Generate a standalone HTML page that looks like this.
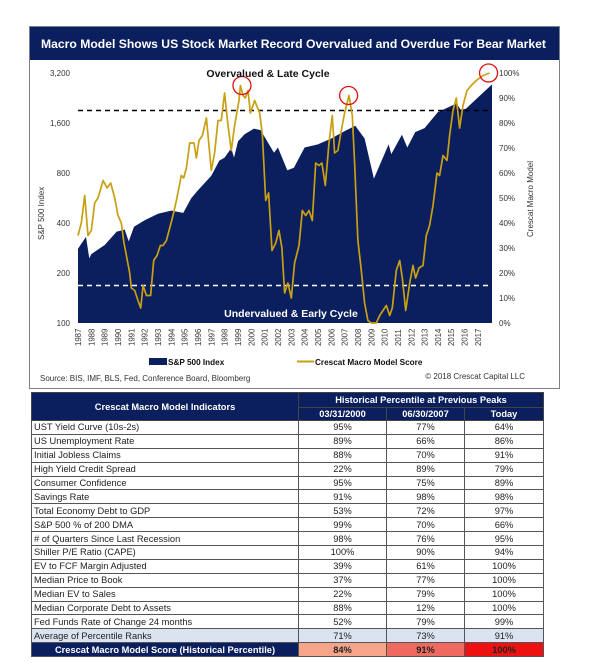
<!DOCTYPE html>
<html><head><meta charset="utf-8"><style>
html,body{margin:0;padding:0;background:#fff;width:606px;height:671px;overflow:hidden}
svg{display:block;font-family:"Liberation Sans",sans-serif}
</style></head><body>
<svg id="chart" width="606" height="671">
<rect x="29.5" y="26.5" width="530" height="362" fill="#fff" stroke="#7a8090"/>
<rect x="30" y="27" width="529" height="33" fill="#0b1f5e"/>
<text x="41" y="48" fill="#fff" font-size="11.6" font-weight="bold" textLength="505" lengthAdjust="spacingAndGlyphs">Macro Model Shows US Stock Market Record Overvalued and Overdue For Bear Market</text>
<g id="plot"></g>
</svg>
<div style="position:absolute;left:31px;top:392px;width:512px">
<table id="tbl" style="border-collapse:collapse;width:512px;font-family:'Liberation Sans',sans-serif;font-size:9.3px;table-layout:fixed">
<colgroup><col style="width:267px"><col style="width:88px"><col style="width:78px"><col style="width:79px"></colgroup>
</table></div>
<script>
const spxYears=[1987.0,1987.6,1987.85,1988,1989,1989.9,1990.5,1990.8,1991.2,1992,1993,1994,1994.9,1995.5,1996,1997,1997.6,1998,1998.5,1998.7,1999,1999.5,2000.2,2000.7,2001,2001.7,2002,2002.7,2003.2,2004,2005,2006,2007,2007.8,2008.5,2009.2,2010.3,2010.5,2011.3,2011.7,2012.3,2013,2014,2015.4,2015.7,2016.1,2017,2018.1];
const spxValues=[280,330,245,260,295,355,365,310,380,415,455,475,460,565,630,770,950,990,1130,990,1240,1370,1480,1450,1320,1060,1140,830,860,1140,1190,1290,1430,1540,1290,740,1190,1040,1360,1140,1410,1490,1860,2100,1920,1950,2280,2750];
const scoreYears=[1987.0,1987.25,1987.5,1987.75,1988,1988.25,1988.5,1988.88,1989.18,1989.45,1989.75,1990,1990.25,1990.45,1990.63,1990.88,1991,1991.25,1991.5,1991.7,1991.88,1992.13,1992.45,1992.68,1992.93,1993.18,1993.38,1993.63,1993.88,1994.13,1994.38,1994.75,1994.93,1995.13,1995.38,1995.7,1995.88,1996.08,1996.33,1996.63,1997,1997.25,1997.5,1997.75,1998,1998.25,1998.5,1998.75,1999.08,1999.18,1999.38,1999.55,1999.75,1999.93,2000.25,2000.63,2000.83,2001.08,2001.3,2001.55,2001.83,2002.08,2002.3,2002.5,2002.75,2003,2003.25,2003.58,2003.83,2004.08,2004.33,2004.58,2004.83,2005.08,2005.3,2005.55,2005.83,2006.08,2006.25,2006.5,2006.75,2007,2007.33,2007.58,2007.75,2008,2008.25,2008.5,2008.75,2009,2009.38,2009.63,2009.88,2010.13,2010.38,2010.58,2010.88,2011.13,2011.33,2011.58,2011.88,2012.13,2012.33,2012.58,2012.88,2013.13,2013.38,2013.63,2013.93,2014.13,2014.38,2014.68,2014.88,2015.13,2015.38,2015.63,2015.88,2016.18,2016.5,2016.88,2017.38,2017.88];
const scoreValues=[35,40,51,35,37,48,50,57,54,56,50,43,40,32,27,20,14,13,9,6,15,11,11,25,27,31,31,33,38,43,49,59,58,62,72,72,66,73,75,82,61,68,81,81,92,79,69,79,89,95,91,90,93,84,89,84,75,49,52,29,32,37,30,12,16,10,24,31,45,43,45,41,64,63,64,55,72,83,68,69,77,84,91,83,64,33,21,8,1,0,0,3,5,7,3,6,21,25,18,5,16,23,18,22,23,35,39,47,60,59,67,65,75,85,90,78,87,93,95,97,99,100];
const leftTicks=[100,200,400,800,1600,3200];
const leftTickLabels=["100","200","400","800","1,600","3,200"];
const rightTicks=[0,10,20,30,40,50,60,70,80,90,100];
const yearLabels=[1987,1988,1989,1990,1991,1992,1993,1994,1995,1996,1997,1998,1999,2000,2001,2002,2003,2004,2005,2006,2007,2008,2009,2010,2011,2012,2013,2014,2015,2016,2017];
const peakYears=[1999.3,2007.3,2017.8];
const peakScores=[95,91,100];
const thresholds=[85,15];
const NS='http://www.w3.org/2000/svg';
const PL=78,PR=492,PT=73,PB=323;
const x=y=>PL+(y-1987)*13.33;
const yL=v=>PB-Math.log2(v/100)*50;
const yR=p=>PB-p*2.5;
const g=document.getElementById('plot');
function mk(tag,attrs,txt){const e=document.createElementNS(NS,tag);for(const k in attrs)e.setAttribute(k,attrs[k]);if(txt!==undefined)e.textContent=txt;g.appendChild(e);return e;}
let d='M'+x(spxYears[0])+','+PB;
spxYears.forEach((yy,i)=>{d+=' L'+x(yy).toFixed(1)+','+yL(spxValues[i]).toFixed(1);});
d+=' L'+PR+','+yL(spxValues[spxValues.length-1]).toFixed(1)+' L'+PR+','+PB+' Z';
let a=mk('path',{d:d,fill:'#0b1f5e'});


thresholds.forEach((t,i)=>{let l=mk('line',{x1:PL,x2:PR,y1:yR(t),y2:yR(t),stroke:i==0?'#000':'#fff','stroke-width':1.6,'stroke-dasharray':'5,4'});

});
let pd='';scoreYears.forEach((yy,i)=>{pd+=(i?' L':'M')+x(yy).toFixed(1)+','+yR(scoreValues[i]).toFixed(1);});
let sl=mk('path',{d:pd,fill:'none',stroke:'#c8a012','stroke-width':1.7,'stroke-linejoin':'round'});


peakYears.forEach((py,i)=>{let c=mk('circle',{cx:x(py),cy:yR(peakScores[i]),r:9,fill:'none',stroke:'#e01010','stroke-width':1.3});

});
leftTicks.forEach((v,i)=>{let t=mk('text',{x:70,y:yL(v)+3,'text-anchor':'end','font-size':8,fill:'#333'},leftTickLabels[i]);

});
rightTicks.forEach(p=>{let t=mk('text',{x:499,y:yR(p)+3,'font-size':8,fill:'#333'},p+'%');

});
yearLabels.forEach(yy=>{let t=mk('text',{transform:'translate('+(x(yy)+3)+',346) rotate(-90)','font-size':7.8,fill:'#333'},String(yy));

});
function lbl(name,attrs,txt){let t=mk('text',attrs,txt);return t;}
lbl('left-axis-title',{transform:'translate(44,240) rotate(-90)','font-size':8,fill:'#333'},'S&P 500 Index');
lbl('right-axis-title',{transform:'translate(533,237) rotate(-90)','font-size':8,fill:'#333'},'Crescat Macro Model');
lbl('overvalued-label',{x:268,y:77,'text-anchor':'middle','font-size':10.5,'font-weight':'bold',fill:'#111'},'Overvalued & Late Cycle');
lbl('undervalued-label',{x:291,y:317,'text-anchor':'middle','font-size':10.5,'font-weight':'bold',fill:'#fff'},'Undervalued & Early Cycle');
let lr=mk('rect',{x:149,y:358,width:18,height:7,fill:'#0b1f5e'});
lbl('legend-sp500',{x:168,y:365,'font-size':8.2,'font-weight':'bold',fill:'#111'},'S&P 500 Index');
let ll=mk('line',{x1:297,x2:314,y1:361.5,y2:361.5,stroke:'#c8a012','stroke-width':2});
lbl('legend-score',{x:315,y:365,'font-size':8.2,'font-weight':'bold',fill:'#111'},'Crescat Macro Model Score');
lbl('source-note',{x:40,y:381,'font-size':8,fill:'#333'},'Source: BIS, IMF, BLS, Fed, Conference Board, Bloomberg');
lbl('copyright-note',{x:525,y:379,'text-anchor':'end','font-size':8,fill:'#333'},'© 2018 Crescat Capital LLC');
const rowNames=["UST Yield Curve (10s-2s)","US Unemployment Rate","Initial Jobless Claims","High Yield Credit Spread","Consumer Confidence","Savings Rate","Total Economy Debt to GDP","S&P 500 % of 200 DMA","# of Quarters Since Last Recession","Shiller P/E Ratio (CAPE)","EV to FCF Margin Adjusted","Median Price to Book","Median EV to Sales","Median Corporate Debt to Assets","Fed Funds Rate of Change 24 months","Average of Percentile Ranks"];
const col2000=[95,89,88,22,95,91,53,99,98,100,39,37,22,88,52,71];
const col2007=[77,66,70,89,75,98,72,70,76,90,61,77,79,12,79,73];
const colToday=[64,86,91,79,89,98,97,66,95,94,100,100,100,100,99,91];
const tbl=document.getElementById('tbl');
const H='background:#0b1f5e;color:#fff;font-weight:bold;text-align:center;border:1px solid #444;padding:0;';
let h=document.createElement('tr');h.style.height='15px';
h.innerHTML='<td rowspan="2" style="'+H+'font-size:9.3px">Crescat Macro Model Indicators</td><td colspan="3" style="'+H+'">Historical Percentile at Previous Peaks</td>';
tbl.appendChild(h);
let h2=document.createElement('tr');h2.style.height='13px';
h2.innerHTML='<td style="'+H+'">03/31/2000</td><td style="'+H+'">06/30/2007</td><td style="'+H+'">Today</td>';
tbl.appendChild(h2);
rowNames.forEach((n,i)=>{const tr=document.createElement('tr');tr.style.height='13.9px';
const bg=i==15?'#dce3f0':'#fff';const C='border:1px solid #555;padding:0 2px;line-height:12px;background:'+bg+';color:#222;';
tr.innerHTML='<td style="'+C+'">'+n.replace('&','&amp;')+'</td><td style="'+C+'text-align:center">'+col2000[i]+'%</td><td style="'+C+'text-align:center">'+col2007[i]+'%</td><td style="'+C+'text-align:center">'+colToday[i]+'%</td>';


tbl.appendChild(tr);});
const scoreRow=[84,91,100];
let fr=document.createElement('tr');fr.style.height='14px';
const F='border:1px solid #555;padding:0;text-align:center;font-weight:bold;line-height:12px;';
fr.innerHTML='<td style="'+F+'background:#0b1f5e;color:#fff">Crescat Macro Model Score (Historical Percentile)</td><td style="'+F+'background:#f4a58a;color:#222">'+scoreRow[0]+'%</td><td style="'+F+'background:#ee6a5e;color:#222">'+scoreRow[1]+'%</td><td style="'+F+'background:#ee1111;color:#222">'+scoreRow[2]+'%</td>';


tbl.appendChild(fr);
</script>
</body></html>
